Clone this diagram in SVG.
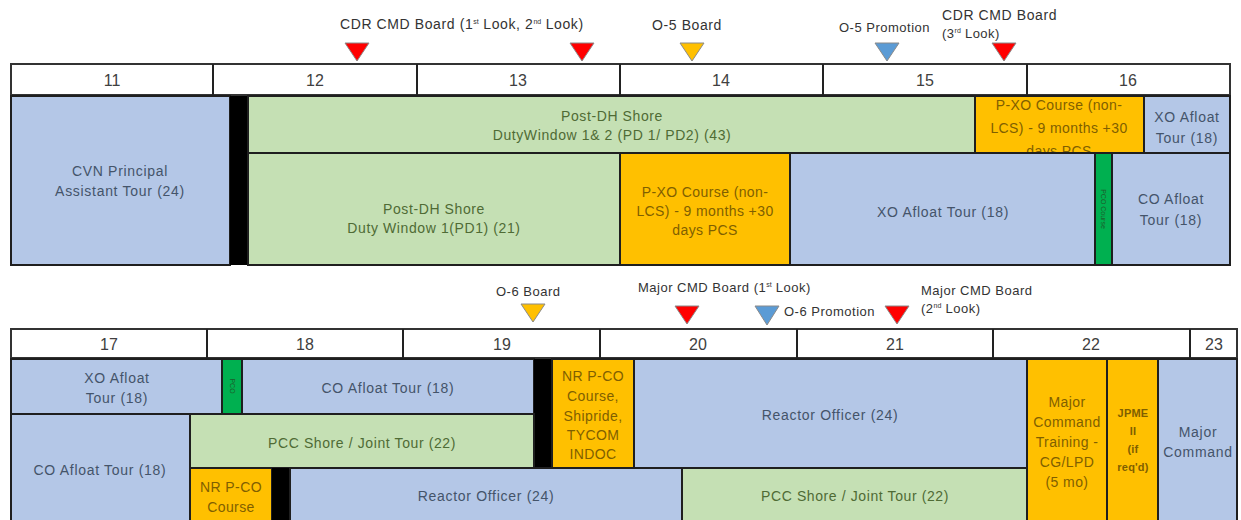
<svg xmlns="http://www.w3.org/2000/svg" width="1241" height="520" viewBox="0 0 1241 520">
<style>
text{font-family:"Liberation Sans",Arial,sans-serif;text-anchor:middle}
.hdr{fill:#fff;stroke:#333;stroke-width:2}
.hn{font-size:16px;fill:#404040}
.bl{fill:#B4C7E7;stroke:#1f1f1f;stroke-width:2}
.gr{fill:#C5E0B4;stroke:#1f1f1f;stroke-width:2}
.or{fill:#FFC000;stroke:#1f1f1f;stroke-width:2}
.dg{fill:#00B050;stroke:#1f1f1f;stroke-width:2}
.bk{fill:#000}
.tb{font-size:14px;letter-spacing:0.7px;fill:#44546A}
.tg{font-size:14px;letter-spacing:0.6px;fill:#4F6B35}
.to{font-size:14px;letter-spacing:0.4px;fill:#7F5F00}
.sm{font-size:11px;letter-spacing:0.2px;font-weight:bold}
.lbl{font-size:13px;letter-spacing:0.5px;fill:#333;text-anchor:start}
.big{font-size:14px;letter-spacing:0.6px}
.sup{font-size:7px;letter-spacing:0}
.tr{fill:#FF0000;stroke:#8a8a8a;stroke-width:1}
.ty{fill:#FFC000;stroke:#8a8a8a;stroke-width:1}
.tu{fill:#5B9BD5;stroke:#8a8a8a;stroke-width:1}
.dv{stroke:#222;stroke-width:2}
</style>

<!-- ===== TOP SECTION ===== -->
<g id="top-markers">
  <text class="lbl big" x="340" y="29">CDR CMD Board (1<tspan class="sup" dy="-5">st</tspan><tspan dy="5"> Look, 2</tspan><tspan class="sup" dy="-5">nd</tspan><tspan dy="5"> Look)</tspan></text>
  <polygon class="tr" points="345,43 369,43 357,61"/>
  <polygon class="tr" points="570,43 594,43 582,61"/>
  <text class="lbl big" x="652" y="30">O-5 Board</text>
  <polygon class="ty" points="680,43 704,43 692,61"/>
  <text class="lbl" x="839" y="32">O-5 Promotion</text>
  <polygon class="tu" points="875,43 899,43 887,61"/>
  <text class="lbl big" x="942" y="20">CDR CMD Board</text>
  <text class="lbl" x="942" y="38">(3<tspan class="sup" dy="-5">rd</tspan><tspan dy="5"> Look)</tspan></text>
  <polygon class="tr" points="992,43 1016,43 1004,61"/>
</g>

<g id="top-timeline">
  <rect class="hdr" x="11" y="64" width="1219" height="31"/>
  <line class="dv" x1="213" y1="64" x2="213" y2="95"/>
  <line class="dv" x1="417" y1="64" x2="417" y2="95"/>
  <line class="dv" x1="620" y1="64" x2="620" y2="95"/>
  <line class="dv" x1="823" y1="64" x2="823" y2="95"/>
  <line class="dv" x1="1027" y1="64" x2="1027" y2="95"/>
  <text class="hn" x="112" y="86">11</text>
  <text class="hn" x="315" y="86">12</text>
  <text class="hn" x="518" y="86">13</text>
  <text class="hn" x="721" y="86">14</text>
  <text class="hn" x="925" y="86">15</text>
  <text class="hn" x="1128" y="86">16</text>
</g>

<g id="cvn-pa-tour">
  <rect class="bl" x="11" y="96" width="219" height="169"/>
  <text class="tb" x="120" y="176">CVN Principal</text>
  <text class="tb" x="120" y="196">Assistant Tour (24)</text>
</g>
<g id="black-bar-top">
  <rect class="bk" x="230" y="96" width="18" height="169"/>
</g>
<g id="post-dh-pd12">
  <rect class="gr" x="248" y="96" width="727" height="57"/>
  <text class="tg" x="612" y="121">Post-DH Shore</text>
  <text class="tg" x="612" y="140">DutyWindow  1&amp; 2 (PD 1/ PD2) (43)</text>
</g>
<g id="pxo-course-top">
  <rect class="or" x="975" y="96" width="169" height="57"/>
  <text class="to" x="1059" y="110">P-XO Course (non-</text>
  <text class="to" x="1059" y="133">LCS) - 9 months +30</text>
  <text class="to" x="1059" y="156">days PCS</text>
</g>
<g id="xo-afloat-top">
  <rect class="bl" x="1144" y="96" width="86" height="57"/>
  <text class="tb" x="1187" y="122">XO Afloat</text>
  <text class="tb" x="1187" y="143">Tour (18)</text>
</g>
<g id="post-dh-pd1">
  <rect class="gr" x="248" y="153" width="372" height="112"/>
  <text class="tg" x="434" y="214">Post-DH Shore</text>
  <text class="tg" x="434" y="233">Duty Window 1(PD1) (21)</text>
</g>
<g id="pxo-course-2">
  <rect class="or" x="620" y="153" width="170" height="112"/>
  <text class="to" x="705" y="197">P-XO Course (non-</text>
  <text class="to" x="705" y="216">LCS) - 9 months +30</text>
  <text class="to" x="705" y="235">days PCS</text>
</g>
<g id="xo-afloat-2">
  <rect class="bl" x="790" y="153" width="305" height="112"/>
  <text class="tb" x="943" y="217">XO Afloat Tour (18)</text>
</g>
<g id="pco-bar-top">
  <rect class="dg" x="1095" y="153" width="17" height="112"/>
  <text x="1103.5" y="209" font-size="7" fill="#1d5e2c" transform="rotate(90 1103.5 209)" dy="2.5">PCO Course</text>
</g>
<g id="co-afloat-top">
  <rect class="bl" x="1112" y="153" width="118" height="112"/>
  <text class="tb" x="1171" y="204">CO Afloat</text>
  <text class="tb" x="1171" y="225">Tour (18)</text>
</g>

<!-- ===== BOTTOM SECTION ===== -->
<g id="bottom-markers">
  <text class="lbl" x="496" y="296">O-6 Board</text>
  <polygon class="ty" points="521,304 545,304 533,322"/>
  <text class="lbl" x="638" y="292">Major CMD Board (1<tspan class="sup" dy="-5">st</tspan><tspan dy="5"> Look)</tspan></text>
  <polygon class="tr" points="675,306 699,306 687,324"/>
  <polygon class="tu" points="755,306 779,306 767,325"/>
  <text class="lbl" x="784" y="316">O-6 Promotion</text>
  <polygon class="tr" points="885,306 909,306 897,324"/>
  <text class="lbl" x="921" y="295">Major CMD Board</text>
  <text class="lbl" x="921" y="313">(2<tspan class="sup" dy="-5">nd</tspan><tspan dy="5"> Look)</tspan></text>
</g>

<g id="bottom-timeline">
  <rect class="hdr" x="11" y="329" width="1226" height="29"/>
  <line class="dv" x1="207" y1="329" x2="207" y2="358"/>
  <line class="dv" x1="403" y1="329" x2="403" y2="358"/>
  <line class="dv" x1="600" y1="329" x2="600" y2="358"/>
  <line class="dv" x1="797" y1="329" x2="797" y2="358"/>
  <line class="dv" x1="993" y1="329" x2="993" y2="358"/>
  <line class="dv" x1="1190" y1="329" x2="1190" y2="358"/>
  <text class="hn" x="109" y="350">17</text>
  <text class="hn" x="305" y="350">18</text>
  <text class="hn" x="502" y="350">19</text>
  <text class="hn" x="698" y="350">20</text>
  <text class="hn" x="895" y="350">21</text>
  <text class="hn" x="1091" y="350">22</text>
  <text class="hn" x="1214" y="350">23</text>
</g>

<g id="xo-afloat-3">
  <rect class="bl" x="11" y="359" width="211" height="55"/>
  <text class="tb" x="117" y="383">XO Afloat</text>
  <text class="tb" x="117" y="403">Tour (18)</text>
</g>
<g id="pco-bar-bottom">
  <rect class="dg" x="222" y="359" width="20" height="55"/>
  <text x="232" y="386" font-size="7" fill="#1d5e2c" transform="rotate(90 232 386)" dy="2.5">PCO</text>
</g>
<g id="co-afloat-3">
  <rect class="bl" x="242" y="359" width="292" height="55"/>
  <text class="tb" x="388" y="393">CO Afloat Tour (18)</text>
</g>
<g id="black-bar-mid">
  <rect class="bk" x="534" y="359" width="18" height="109"/>
</g>
<g id="nr-pco-shipride">
  <rect class="or" x="552" y="359" width="82" height="109"/>
  <text class="to" x="593" y="381">NR P-CO</text>
  <text class="to" x="593" y="401">Course,</text>
  <text class="to" x="593" y="421">Shipride,</text>
  <text class="to" x="593" y="440">TYCOM</text>
  <text class="to" x="593" y="459">INDOC</text>
</g>
<g id="reactor-officer-1">
  <rect class="bl" x="634" y="359" width="393" height="109"/>
  <text class="tb" x="830" y="420">Reactor Officer (24)</text>
</g>
<g id="co-afloat-4">
  <rect class="bl" x="11" y="414" width="179" height="110"/>
  <text class="tb" x="100" y="475">CO Afloat Tour (18)</text>
</g>
<g id="pcc-shore-1">
  <rect class="gr" x="190" y="414" width="344" height="54"/>
  <text class="tg" x="362" y="448">PCC Shore / Joint Tour (22)</text>
</g>
<g id="nr-pco-course">
  <rect class="or" x="190" y="468" width="82" height="56"/>
  <text class="to" x="231" y="492">NR P-CO</text>
  <text class="to" x="231" y="512">Course</text>
</g>
<g id="black-bar-bottom">
  <rect class="bk" x="272" y="468" width="18" height="56"/>
</g>
<g id="reactor-officer-2">
  <rect class="bl" x="290" y="468" width="392" height="56"/>
  <text class="tb" x="486" y="501">Reactor Officer (24)</text>
</g>
<g id="pcc-shore-2">
  <rect class="gr" x="682" y="468" width="345" height="56"/>
  <text class="tg" x="855" y="501">PCC Shore / Joint Tour (22)</text>
</g>
<g id="major-cmd-training">
  <rect class="or" x="1027" y="359" width="80" height="165"/>
  <text class="to" x="1067" y="407">Major</text>
  <text class="to" x="1067" y="427">Command</text>
  <text class="to" x="1067" y="447">Training -</text>
  <text class="to" x="1067" y="467">CG/LPD</text>
  <text class="to" x="1067" y="487">(5 mo)</text>
</g>
<g id="jpme">
  <rect class="or" x="1107" y="359" width="51" height="165"/>
  <text class="to sm" x="1133" y="417">JPME</text>
  <text class="to sm" x="1133" y="435">II</text>
  <text class="to sm" x="1133" y="453">(if</text>
  <text class="to sm" x="1133" y="471">req'd)</text>
</g>
<g id="major-command">
  <rect class="bl" x="1158" y="359" width="79" height="165"/>
  <text class="tb" x="1198" y="437">Major</text>
  <text class="tb" x="1198" y="457">Command</text>
</g>
<g id="connectors"></g>
</svg>
